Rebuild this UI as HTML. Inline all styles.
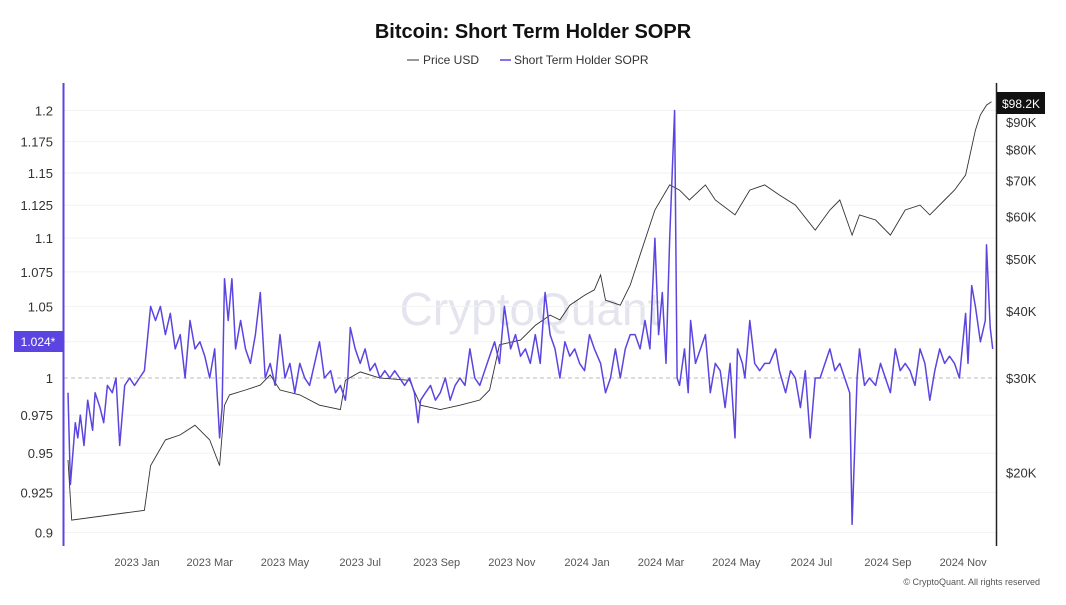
<!DOCTYPE html>
<html><head><meta charset="utf-8"><style>
body{margin:0;background:#fff;font-family:"Liberation Sans",sans-serif}
svg text{font-family:"Liberation Sans",sans-serif}
</style></head><body>
<svg width="1066" height="600">
<text x="533" y="38" text-anchor="middle" font-size="20" font-weight="bold" fill="#111">Bitcoin: Short Term Holder SOPR</text>
<g>
<line x1="407" y1="60" x2="419" y2="60" stroke="#333" stroke-width="1"/>
<text x="423" y="64" font-size="12" fill="#333">Price USD</text>
<line x1="500" y1="60" x2="511" y2="60" stroke="#5b45e0" stroke-width="1.5"/>
<text x="514" y="64" font-size="12" fill="#333">Short Term Holder SOPR</text>
</g>
<text x="530" y="325" text-anchor="middle" font-size="46" fill="#e4e4ee">CryptoQuant</text>
<g id="grid"></g>
<g id="series"></g>
<line x1="63.5" y1="83" x2="63.5" y2="546" stroke="#5b45e0" stroke-width="2"/>
<line x1="996.5" y1="83" x2="996.5" y2="546" stroke="#222" stroke-width="1.5"/>
<g id="labels"></g>
<rect x="14" y="331" width="49" height="21" fill="#5b45e0"/>
<text x="38" y="346" text-anchor="middle" font-size="12" fill="#fff">1.024*</text>
<rect x="997" y="92" width="48" height="22" fill="#111"/>
<text x="1021" y="108" text-anchor="middle" font-size="12" fill="#fff">$98.2K</text>
<text x="1040" y="585" text-anchor="end" font-size="9" fill="#555">© CryptoQuant. All rights reserved</text>
</svg>
<script>
const leftTicks=[0.9,0.925,0.95,0.975,1,1.025,1.05,1.075,1.1,1.125,1.15,1.175,1.2];
const leftTickLabels=["0.9","0.925","0.95","0.975","1","","1.05","1.075","1.1","1.125","1.15","1.175","1.2"];
const rightTicks=[20000,30000,40000,50000,60000,70000,80000,90000];
const rightTickLabels=["$20K","$30K","$40K","$50K","$60K","$70K","$80K","$90K"];
const monthLabels=["2023 Jan","2023 Mar","2023 May","2023 Jul","2023 Sep","2023 Nov","2024 Jan","2024 Mar","2024 May","2024 Jul","2024 Sep","2024 Nov"];
const monthDays=[0,59,120,181,243,304,365,425,486,547,609,670];
const priceDays=[-56,-53,6,11,23,35,47,59,67,71,75,88,100,108,116,132,148,165,169,181,197,221,230,246,262,278,286,294,311,323,335,343,351,363,371,376,380,392,400,408,420,432,440,448,461,469,485,497,509,521,534,550,562,570,580,586,599,611,623,635,643,655,663,672,680,684,689,693];
const priceValues=[21.1,16.3,17.0,20.6,23.0,23.5,24.5,23.0,20.6,26.7,27.9,28.5,29.1,30.4,28.5,27.9,26.7,26.2,29.7,30.8,30.0,29.7,26.7,26.2,26.7,27.3,28.5,34.6,35.3,37.6,39.3,38.5,41.0,42.8,43.8,46.7,41.9,41.0,44.7,50.9,61.7,68.7,67.2,64.4,68.7,64.4,60.4,67.2,68.7,65.8,63.0,56.6,61.7,64.4,55.4,60.4,59.1,55.4,61.7,63.0,60.4,64.4,67.2,71.7,86.9,92.8,96.8,98.2];
const soprDays=[-56,-54,-50,-48,-46,-43,-40,-36,-34,-30,-27,-24,-20,-17,-14,-10,-6,-2,2,6,11,15,19,23,27,31,35,39,43,47,51,55,59,63,67,69,71,74,77,80,84,88,92,96,100,104,108,112,116,120,124,128,132,136,140,148,152,157,161,165,169,171,173,177,181,185,189,193,197,201,205,209,213,217,221,225,228,230,234,238,242,246,250,254,258,262,266,270,274,278,282,286,290,294,298,303,307,311,315,319,323,327,331,335,339,343,347,351,355,359,363,367,371,376,380,384,388,392,396,400,404,408,412,416,420,423,426,429,432,436,438,440,444,447,449,453,457,461,465,469,473,477,481,485,487,491,493,497,501,505,509,513,518,521,526,530,534,538,542,546,550,554,558,562,566,570,574,578,580,584,586,590,594,599,603,607,611,615,619,623,627,631,635,639,643,647,651,655,659,663,667,672,674,677,680,684,688,689,692,694];
const soprValues=[0.99,0.93,0.97,0.96,0.975,0.955,0.985,0.965,0.99,0.98,0.97,0.995,0.99,1.0,0.955,0.995,1.0,0.995,1.0,1.005,1.05,1.04,1.05,1.03,1.045,1.02,1.03,1.0,1.04,1.02,1.025,1.015,1.0,1.02,0.96,0.98,1.07,1.04,1.07,1.02,1.04,1.02,1.01,1.03,1.06,1.0,1.01,0.995,1.03,1.0,1.01,0.99,1.01,1.0,0.995,1.025,1.0,1.005,0.99,0.995,0.985,1.0,1.035,1.02,1.01,1.02,1.005,1.01,1.0,1.005,1.0,1.005,1.0,0.995,1.0,0.99,0.97,0.985,0.99,0.995,0.985,0.99,1.0,0.985,0.995,1.0,0.995,1.02,1.0,0.995,1.005,1.015,1.025,1.01,1.05,1.02,1.03,1.015,1.02,1.01,1.03,1.01,1.06,1.03,1.02,1.0,1.025,1.015,1.02,1.01,1.005,1.03,1.02,1.01,0.99,1.0,1.02,1.0,1.02,1.03,1.03,1.02,1.04,1.02,1.1,1.03,1.06,1.01,1.1,1.2,1.0,0.995,1.02,0.99,1.04,1.01,1.02,1.03,0.99,1.01,1.005,0.98,1.01,0.96,1.02,1.01,1.0,1.04,1.01,1.005,1.01,1.01,1.02,1.005,0.99,1.005,1.0,0.98,1.005,0.96,1.0,1.0,1.01,1.02,1.005,1.01,1.0,0.99,0.905,1.0,1.02,0.995,1.0,0.995,1.01,1.0,0.99,1.02,1.005,1.01,1.005,0.995,1.02,1.01,0.985,1.005,1.02,1.01,1.015,1.01,1.0,1.045,1.01,1.065,1.05,1.025,1.04,1.095,1.035,1.02];

const NS="http://www.w3.org/2000/svg";
function xDay(d){return 137+d*1.233;}
function yLeft(v){return 378-1467*Math.log(v);}
function yRight(p){return 378-233*Math.log(p/30000);}
function mk(tag,attrs,parent){const e=document.createElementNS(NS,tag);for(const k in attrs)e.setAttribute(k,attrs[k]);parent.appendChild(e);return e;}
const grid=document.getElementById('grid'),series=document.getElementById('series'),labels=document.getElementById('labels');
leftTicks.forEach((v,i)=>{
  const y=yLeft(v);
  if(v!==1){const g=mk('line',{x1:64,x2:996,y1:y,y2:y,stroke:'#f2f2f2','stroke-width':1},grid);
  
  }
  if(leftTickLabels[i]){const t=mk('text',{x:53,y:y+5,'text-anchor':'end','font-size':13,fill:'#333'},labels);t.textContent=leftTickLabels[i];
  
  }
});
const base=mk('line',{x1:64,x2:996,y1:yLeft(1),y2:yLeft(1),stroke:'#bbb','stroke-dasharray':'4 3','stroke-width':1},grid);


rightTicks.forEach((p,i)=>{
  const t=mk('text',{x:1006,y:yRight(p)+5,'font-size':13,fill:'#333'},labels);t.textContent=rightTickLabels[i];
  
  
});
monthDays.forEach((d,i)=>{
  const t=mk('text',{x:xDay(d),y:566,'text-anchor':'middle','font-size':11,fill:'#555'},labels);t.textContent=monthLabels[i];
  
  
});
let pp=priceDays.map((d,i)=>xDay(d).toFixed(1)+','+yRight(priceValues[i]*1000).toFixed(1)).join(' ');
const pl=mk('polyline',{points:pp,fill:'none',stroke:'#333','stroke-width':0.9},series);


const n=Math.min(soprDays.length,soprValues.length);
let sp=[];for(let i=0;i<n;i++)sp.push(xDay(soprDays[i]).toFixed(1)+','+yLeft(soprValues[i]).toFixed(1));
const sl=mk('polyline',{points:sp.join(' '),fill:'none',stroke:'#5b45e0','stroke-width':1.5,'stroke-linejoin':'round'},series);


</script>
</body></html>
